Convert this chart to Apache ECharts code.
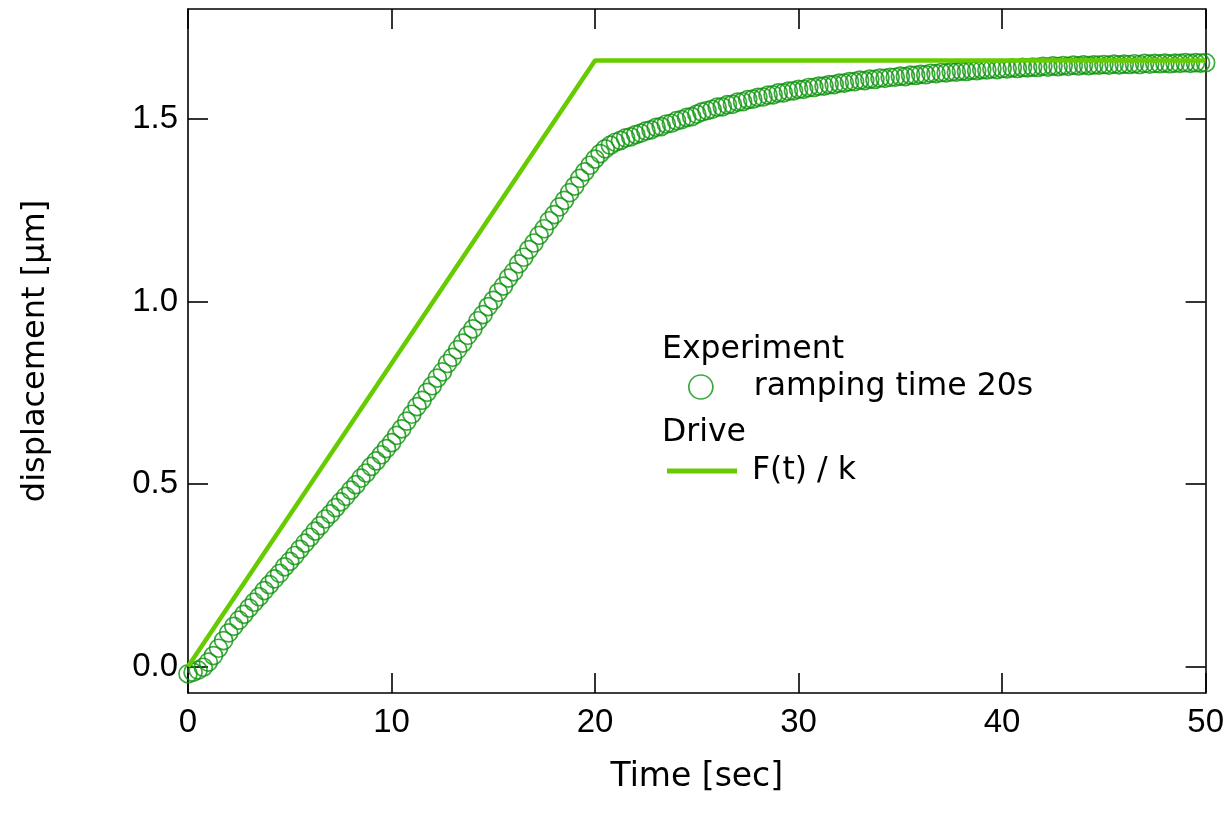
<!DOCTYPE html>
<html>
<head>
<meta charset="utf-8">
<script src="https://cdn.jsdelivr.net/npm/echarts@6/dist/echarts.min.js"></script>
<style>
html,body{margin:0;padding:0;background:#fff;}
#chart{width:1227px;height:821px;}
</style>
</head>
<body>
<div id="chart"></div>
<script>
// ---- data ----
const timeSec = [
  0,0.25,0.5,0.75,1,1.25,1.5,1.75,
  2,2.25,2.5,2.75,3,3.25,3.5,3.75,
  4,4.25,4.5,4.75,5,5.25,5.5,5.75,
  6,6.25,6.5,6.75,7,7.25,7.5,7.75,
  8,8.25,8.5,8.75,9,9.25,9.5,9.75,
  10,10.25,10.5,10.75,11,11.25,11.5,11.75,
  12,12.25,12.5,12.75,13,13.25,13.5,13.75,
  14,14.25,14.5,14.75,15,15.25,15.5,15.75,
  16,16.25,16.5,16.75,17,17.25,17.5,17.75,
  18,18.25,18.5,18.75,19,19.25,19.5,19.75,
  20,20.25,20.5,20.75,21,21.25,21.5,21.75,
  22,22.25,22.5,22.75,23,23.25,23.5,23.75,
  24,24.25,24.5,24.75,25,25.25,25.5,25.75,
  26,26.25,26.5,26.75,27,27.25,27.5,27.75,
  28,28.25,28.5,28.75,29,29.25,29.5,29.75,
  30,30.25,30.5,30.75,31,31.25,31.5,31.75,
  32,32.25,32.5,32.75,33,33.25,33.5,33.75,
  34,34.25,34.5,34.75,35,35.25,35.5,35.75,
  36,36.25,36.5,36.75,37,37.25,37.5,37.75,
  38,38.25,38.5,38.75,39,39.25,39.5,39.75,
  40,40.25,40.5,40.75,41,41.25,41.5,41.75,
  42,42.25,42.5,42.75,43,43.25,43.5,43.75,
  44,44.25,44.5,44.75,45,45.25,45.5,45.75,
  46,46.25,46.5,46.75,47,47.25,47.5,47.75,
  48,48.25,48.5,48.75,49,49.25,49.5,49.75,
  50
];
const experimentDisp = [
  -0.020,-0.016,-0.010,-0.002,0.012,0.030,0.050,0.071,
  0.092,0.110,0.127,0.143,0.160,0.176,0.191,0.208,
  0.224,0.240,0.255,0.273,0.288,0.304,0.321,0.338,
  0.354,0.371,0.386,0.404,0.418,0.435,0.451,0.466,
  0.483,0.498,0.516,0.530,0.548,0.563,0.580,0.597,
  0.613,0.633,0.651,0.672,0.691,0.712,0.729,0.751,
  0.769,0.790,0.807,0.830,0.847,0.868,0.886,0.907,
  0.925,0.947,0.964,0.986,1.003,1.025,1.042,1.064,
  1.081,1.103,1.121,1.142,1.160,1.181,1.199,1.221,
  1.238,1.259,1.277,1.298,1.316,1.337,1.355,1.373,
  1.390,1.405,1.418,1.428,1.436,1.441,1.448,1.451,
  1.457,1.461,1.467,1.470,1.477,1.479,1.486,1.488,
  1.495,1.498,1.504,1.506,1.513,1.519,1.523,1.526,
  1.532,1.533,1.539,1.540,1.546,1.547,1.553,1.554,
  1.559,1.560,1.565,1.566,1.571,1.571,1.576,1.577,
  1.581,1.581,1.586,1.586,1.590,1.590,1.594,1.594,
  1.598,1.598,1.602,1.602,1.606,1.605,1.609,1.608,
  1.612,1.611,1.614,1.614,1.617,1.616,1.620,1.619,
  1.622,1.621,1.625,1.624,1.627,1.626,1.629,1.628,
  1.631,1.630,1.633,1.632,1.635,1.634,1.637,1.635,
  1.638,1.637,1.640,1.638,1.641,1.640,1.642,1.641,
  1.644,1.642,1.645,1.643,1.646,1.644,1.647,1.645,
  1.648,1.646,1.648,1.647,1.649,1.647,1.650,1.648,
  1.650,1.649,1.651,1.649,1.652,1.650,1.652,1.651,
  1.653,1.651,1.653,1.652,1.654,1.652,1.654,1.653,
  1.654
];
const driveTime = [0, 20, 50];
const driveDisp = [0, 1.66, 1.66];
const xTicks = [0, 10, 20, 30, 40, 50];
const yTicks = [0, 0.5, 1.0, 1.5];
const experimentName = 'ramping time 20s';
const driveName = 'F(t) / k';

// ---- chart ----
const FONT = 'DejaVu Sans';
const NUMFONT = 'Liberation Sans';
const expColor = '#0c940c';
const driveColor = '#66cc00';
const axisLineStyle = {color: '#000', width: 1.6};

const expData = timeSec.map((t, i) => [t, experimentDisp[i]]);
const driveData = driveTime.map((t, i) => [t, driveDisp[i]]);

const chart = echarts.init(document.getElementById('chart'), null, {renderer: 'canvas'});
const yMin = -0.0726, yMax = 1.801;

chart.setOption({
  animation: false,
  backgroundColor: '#fff',
  grid: {left: 188, right: 20, top: 9, bottom: 128, containLabel: false},
  xAxis: [
    {
      type: 'value', min: 0, max: 50, interval: 10, position: 'bottom',
      axisLine: {onZero: false, lineStyle: axisLineStyle},
      axisTick: {inside: true, length: 20, lineStyle: axisLineStyle},
      axisLabel: {fontSize: 33, color: '#000', fontFamily: NUMFONT, margin: 13,
        customValues: xTicks},
      splitLine: {show: false},
      name: 'Time [sec]', nameLocation: 'middle', nameGap: 68,
      nameTextStyle: {fontSize: 33, color: '#000', fontFamily: FONT}
    },
    {
      type: 'value', min: 0, max: 50, interval: 10, position: 'top',
      axisLine: {onZero: false, lineStyle: axisLineStyle},
      axisTick: {inside: true, length: 20, lineStyle: axisLineStyle},
      axisLabel: {show: false},
      splitLine: {show: false}
    }
  ],
  yAxis: [
    {
      type: 'value', min: yMin, max: yMax, position: 'left', alignTicks: false,
      axisLine: {show: true, onZero: false, lineStyle: axisLineStyle},
      axisTick: {show: true, inside: true, length: 20, lineStyle: axisLineStyle, customValues: yTicks},
      axisLabel: {fontSize: 33, color: '#000', fontFamily: NUMFONT, margin: 10,
        customValues: yTicks, formatter: v => v.toFixed(1)},
      splitLine: {show: false},
      name: 'displacement [µm]', nameLocation: 'middle', nameGap: 136,
      nameTextStyle: {fontSize: 32, color: '#000', fontFamily: FONT}
    },
    {
      type: 'value', min: yMin, max: yMax, position: 'right', alignTicks: false,
      axisLine: {show: true, onZero: false, lineStyle: axisLineStyle},
      axisTick: {show: true, inside: true, length: 20, lineStyle: axisLineStyle, customValues: yTicks},
      axisLabel: {show: false},
      splitLine: {show: false}
    }
  ],
  legend: [
    {
      data: [{name: experimentName, icon: 'circle',
        itemStyle: {color: 'rgba(0,0,0,0)', borderColor: expColor, borderWidth: 1.7}}],
      left: 688, top: 371, padding: 0, itemWidth: 24, itemHeight: 24, selectedMode: false,
      textStyle: {fontSize: 31.5, color: '#000', fontFamily: FONT, padding: [0, 0, 0, 36]}
    },
    {
      data: [{name: driveName, icon: 'rect', itemStyle: {color: driveColor}}],
      left: 667, top: 455, padding: 0, itemWidth: 70, itemHeight: 5, selectedMode: false,
      textStyle: {fontSize: 31.5, color: '#000', fontFamily: FONT, padding: [0, 0, 0, 10]}
    }
  ],
  graphic: [
    {type: 'text', left: 662, top: 334, style: {text: 'Experiment', fontSize: 31.5, fill: '#000', fontFamily: FONT}},
    {type: 'text', left: 662, top: 417, style: {text: 'Drive', fontSize: 31.5, fill: '#000', fontFamily: FONT}}
  ],
  series: [
    {
      name: experimentName, type: 'scatter', xAxisIndex: 0, yAxisIndex: 0,
      data: expData, symbol: 'circle', symbolSize: 18,
      itemStyle: {color: 'rgba(0,0,0,0)', borderColor: expColor, borderWidth: 1.7},
      emphasis: {disabled: true}, z: 2
    },
    {
      name: driveName, type: 'line', xAxisIndex: 0, yAxisIndex: 0,
      data: driveData, showSymbol: false, symbol: 'none',
      lineStyle: {color: driveColor, width: 4.5},
      itemStyle: {color: driveColor},
      emphasis: {disabled: true}, z: 3
    }
  ]
});
</script>
</body>
</html>
